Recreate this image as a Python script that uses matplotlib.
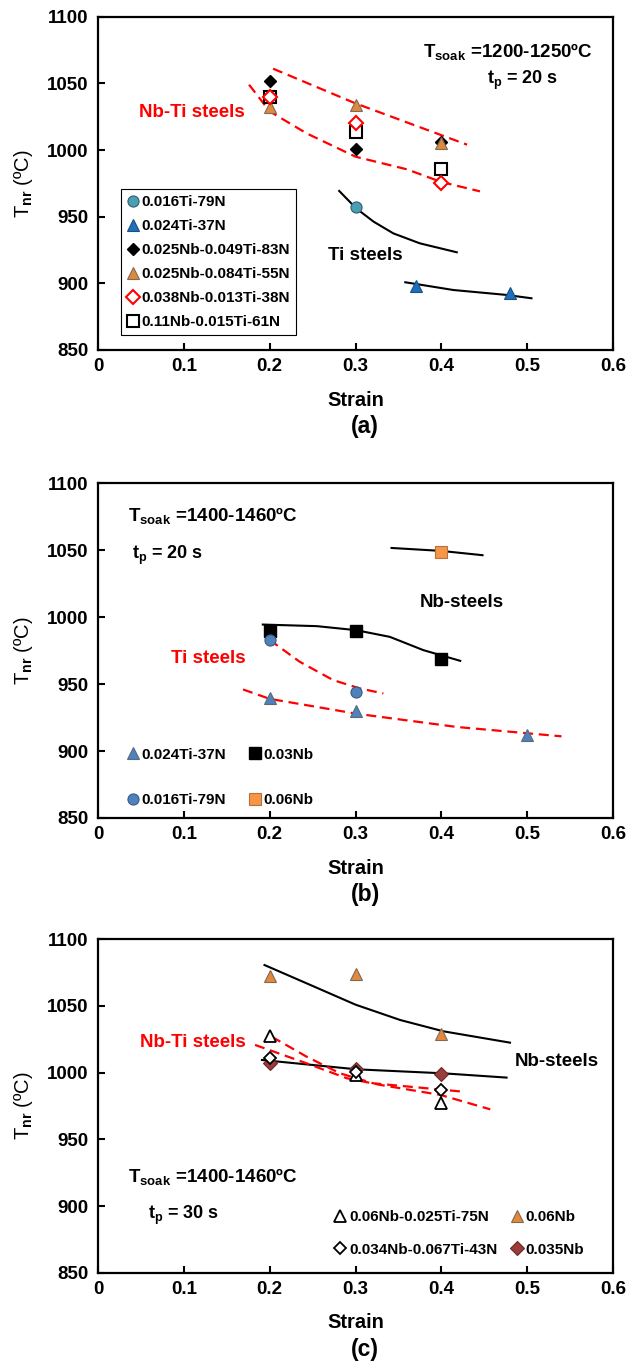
import matplotlib
matplotlib.use("Agg")
import matplotlib.pyplot as plt

plt.rcParams['font.family'] = ['Liberation Sans', 'DejaVu Sans']
plt.rcParams['font.weight'] = 'bold'
plt.rcParams['mathtext.fontset'] = 'custom'
plt.rcParams['mathtext.rm'] = 'Liberation Sans:bold'
plt.rcParams['mathtext.bf'] = 'Liberation Sans:bold'
plt.rcParams['mathtext.it'] = 'Liberation Sans:bold'
plt.rcParams['mathtext.default'] = 'bf'

RED = '#ff0000'

# ---------------- panel (a) data ----------------
a_ti79_x, a_ti79_y = [0.3], [957]
a_ti37_x, a_ti37_y = [0.37, 0.48], [898, 893]
a_strain = [0.2, 0.3, 0.4]
a_nb025_ti049 = [1052, 1000.5, 1006]
a_nb025_ti084 = [1032.5, 1033.5, 1005.5]
a_nb038_ti013 = [1039.5, 1020.5, 975.5]
a_nb11_ti015 = [1040, 1013.7, 985.5]

# trend lines
a_fit_up_x = [0.204, 0.3, 0.43]
a_fit_up_y = [1061, 1035, 1004]
a_fit_lo_x = [0.176, 0.2, 0.243, 0.3, 0.36, 0.4, 0.445]
a_fit_lo_y = [1049, 1029, 1012.5, 995, 985.5, 976, 969]
a_ti_fit1_x = [0.281, 0.3007, 0.321, 0.344, 0.375, 0.418]
a_ti_fit1_y = [969.3, 956.3, 946.3, 937.5, 930, 923.3]
a_ti_fit2_x = [0.358, 0.414, 0.476, 0.505]
a_ti_fit2_y = [900.8, 895, 891.3, 888.8]

# ---------------- panel (b) data ----------------
b_ti37_x, b_ti37_y = [0.2, 0.3, 0.5], [939.5, 930, 912]
b_nb03_x, b_nb03_y = [0.2, 0.3, 0.4], [990, 990, 969]
b_ti79_x, b_ti79_y = [0.2, 0.3], [983, 944]
b_nb06_x, b_nb06_y = [0.4], [1049]

b_nb_fit1_x = [0.342, 0.4, 0.448]
b_nb_fit1_y = [1051.7, 1049.5, 1046.3]
b_nb_fit2_x = [0.192, 0.255, 0.3007, 0.34, 0.379, 0.422]
b_nb_fit2_y = [994.5, 993.3, 990.3, 985.3, 975.4, 967.4]
b_ti_fit1_x = [0.2, 0.235, 0.274, 0.305, 0.3325]
b_ti_fit1_y = [983, 966.7, 953, 946.8, 943]
b_ti_fit2_x = [0.169, 0.2, 0.3, 0.418, 0.54]
b_ti_fit2_y = [946, 939, 928, 918, 911]

# ---------------- panel (c) data ----------------
c_strain = [0.2, 0.3, 0.4]
c_nb06_ti025 = [1027.5, 998, 977]
c_nb06 = [1072.5, 1074, 1029]
c_nb034_ti067 = [1011.3, 1000.8, 987]
c_nb035 = [1007, 1002.5, 999]

c_nb_fit1_x = [0.194, 0.243, 0.3, 0.352, 0.4025, 0.48]
c_nb_fit1_y = [1080.7, 1067, 1051, 1039.5, 1031, 1022.5]
c_nb_fit2_x = [0.191, 0.3015, 0.4025, 0.476]
c_nb_fit2_y = [1009.5, 1002.5, 999.5, 996.3]
c_nbti_fit1_x = [0.183, 0.243, 0.29, 0.329, 0.399, 0.457]
c_nbti_fit1_y = [1020.8, 1007, 995.8, 990.8, 983.3, 972.5]
c_nbti_fit2_x = [0.2023, 0.243, 0.282, 0.321, 0.383, 0.424]
c_nbti_fit2_y = [1027, 1012, 999.5, 992, 988.3, 985.8]

x_ticks = [0, 0.1, 0.2, 0.3, 0.4, 0.5, 0.6]
x_ticklabels = ['0', '0.1', '0.2', '0.3', '0.4', '0.5', '0.6']
y_ticks = [850, 900, 950, 1000, 1050, 1100]

W, H = 630, 1370
fig = plt.figure(figsize=(W / 100, H / 100), dpi=100)


def make_axes(top_px, bottom_px, letter):
    ax = fig.add_axes([98 / W, 1 - bottom_px / H, 515 / W, (bottom_px - top_px) / H])
    ax.set_xlim(0, 0.6)
    ax.set_ylim(850, 1100)
    ax.set_xticks(x_ticks)
    ax.set_xticklabels(x_ticklabels)
    ax.set_yticks(y_ticks)
    ax.tick_params(direction='in', length=5, width=1.5, labelsize=13.5, pad=6)
    ax.tick_params(axis='y', pad=7)
    for s in ax.spines.values():
        s.set_linewidth(1.6)
    ax.set_xlabel('Strain', fontsize=14.5, fontweight='bold', labelpad=11)
    ax.set_ylabel('T$_{nr}$ (ºC)', fontsize=14.5)
    ax.yaxis.set_label_coords(-0.122, 0.5)
    fig.text(365 / W, 1 - (bottom_px + 77) / H, letter, fontsize=16.5, ha='center', va='center')
    return ax


def dashed(ax, x, y):
    ax.plot(x, y, color=RED, lw=1.6, dashes=(4.5, 2.6), zorder=2)


def solid(ax, x, y):
    ax.plot(x, y, color='black', lw=1.5, zorder=2)


LEG = dict(fontsize=11, handlelength=0.7, handletextpad=0.25, borderaxespad=0)

# ================= (a) =================
ax = make_axes(16.7, 350, '(a)')
dashed(ax, a_fit_up_x, a_fit_up_y)
dashed(ax, a_fit_lo_x, a_fit_lo_y)
solid(ax, a_ti_fit1_x, a_ti_fit1_y)
solid(ax, a_ti_fit2_x, a_ti_fit2_y)
ax.plot(a_ti79_x, a_ti79_y, 'o', ms=8, mfc='#4a9fb3', mec='#2f5f70', mew=0.8, label='0.016Ti-79N', zorder=3)
ax.plot(a_ti37_x, a_ti37_y, '^', ms=8.5, mfc='#1f6fbf', mec='#1a4f80', mew=0.8, label='0.024Ti-37N', zorder=3)
ax.plot(a_strain, a_nb025_ti049, 'D', ms=6.5, mfc='black', mec='black', label='0.025Nb-0.049Ti-83N', zorder=3)
ax.plot(a_strain, a_nb025_ti084, '^', ms=8.5, mfc='#dd8a3e', mec='#7f6a55', mew=0.8, label='0.025Nb-0.084Ti-55N', zorder=3)
ax.plot(a_strain, a_nb11_ti015, 's', ms=9, mfc='white', mec='black', mew=1.5, label='0.11Nb-0.015Ti-61N', zorder=3)
ax.plot(a_strain, a_nb038_ti013, 'D', ms=7, mfc='white', mec=RED, mew=1.5, label='0.038Nb-0.013Ti-38N', zorder=4)
h, l = ax.get_legend_handles_labels()
order = [0, 1, 2, 3, 5, 4]
leg = ax.legend([h[i] for i in order], [l[i] for i in order], loc='lower left',
                bbox_to_anchor=(0.045, 0.045), labelspacing=0.65, borderpad=0.4,
                fancybox=False, edgecolor='black', framealpha=1, **LEG)
leg.get_frame().set_linewidth(0.8)
ax.text(0.109, 1028, 'Nb-Ti steels', color=RED, fontsize=13.5, ha='center', va='center')
ax.text(0.312, 921, 'Ti steels', color='black', fontsize=13.5, ha='center', va='center')
ax.text(0.477, 1074, 'T$_{soak}$ =1200-1250ºC', fontsize=13.5, ha='center', va='center')
ax.text(0.495, 1052, 't$_{p}$ = 20 s', fontsize=13, ha='center', va='center')

# ================= (b) =================
ax = make_axes(483.3, 818, '(b)')
solid(ax, b_nb_fit1_x, b_nb_fit1_y)
solid(ax, b_nb_fit2_x, b_nb_fit2_y)
dashed(ax, b_ti_fit1_x, b_ti_fit1_y)
dashed(ax, b_ti_fit2_x, b_ti_fit2_y)
p1, = ax.plot(b_ti37_x, b_ti37_y, '^', ms=8.5, mfc='#4f81bd', mec='#5a6a7a', mew=0.8, zorder=3)
p2, = ax.plot(b_nb03_x, b_nb03_y, 's', ms=8, mfc='black', mec='black', zorder=3)
p3, = ax.plot(b_ti79_x, b_ti79_y, 'o', ms=8, mfc='#4f81bd', mec='#3a5a80', mew=0.8, zorder=3)
p4, = ax.plot(b_nb06_x, b_nb06_y, 's', ms=8.5, mfc='#f79646', mec='#b87040', mew=0.8, zorder=3)
ax.legend([p1, p3, p2, p4], ['0.024Ti-37N', '0.016Ti-79N', '0.03Nb', '0.06Nb'], ncol=2,
          loc='lower left', bbox_to_anchor=(0.045, 0.015), frameon=False,
          labelspacing=2.05, columnspacing=1.5, **LEG)
ax.text(0.035, 1076, 'T$_{soak}$ =1400-1460ºC', fontsize=13.5, ha='left', va='center')
ax.text(0.04, 1046, 't$_{p}$ = 20 s', fontsize=13, ha='left', va='center')
ax.text(0.4236, 1010.7, 'Nb-steels', fontsize=13.5, ha='center', va='center')
ax.text(0.129, 969, 'Ti steels', color=RED, fontsize=13.5, ha='center', va='center')

# ================= (c) =================
ax = make_axes(939.3, 1272.7, '(c)')
solid(ax, c_nb_fit1_x, c_nb_fit1_y)
solid(ax, c_nb_fit2_x, c_nb_fit2_y)
dashed(ax, c_nbti_fit1_x, c_nbti_fit1_y)
dashed(ax, c_nbti_fit2_x, c_nbti_fit2_y)
q1, = ax.plot(c_strain, c_nb06_ti025, '^', ms=8.5, mfc='white', mec='black', mew=1.3, zorder=3)
q2, = ax.plot(c_strain, c_nb06, '^', ms=8.5, mfc='#e3883c', mec='#7f6a55', mew=0.8, zorder=3)
q4, = ax.plot(c_strain, c_nb035, 'D', ms=7, mfc='#9a3c3a', mec='#6a2a28', mew=0.8, zorder=3)
q3, = ax.plot(c_strain, c_nb034_ti067, 'D', ms=6.5, mfc='white', mec='black', mew=1.3, zorder=4)
ax.legend([q1, q3, q2, q4], ['0.06Nb-0.025Ti-75N', '0.034Nb-0.067Ti-43N', '0.06Nb', '0.035Nb'],
          ncol=2, loc='lower left', bbox_to_anchor=(0.448, 0.03), frameon=False,
          labelspacing=1.2, columnspacing=0.9, **LEG)
ax.text(0.111, 1022.5, 'Nb-Ti steels', color=RED, fontsize=13.5, ha='center', va='center')
ax.text(0.486, 1008, 'Nb-steels', fontsize=13.5, ha='left', va='center')
ax.text(0.035, 922.5, 'T$_{soak}$ =1400-1460ºC', fontsize=13.5, ha='left', va='center')
ax.text(0.058, 893, 't$_{p}$ = 30 s', fontsize=13, ha='left', va='center')

fig.savefig('out.png', dpi=100)
